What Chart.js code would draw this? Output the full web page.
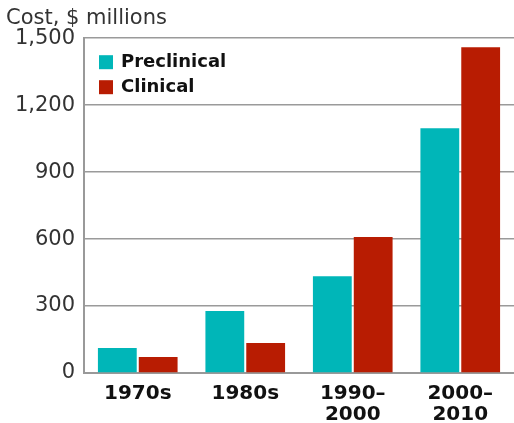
<!DOCTYPE html>
<html>
<head>
<meta charset="utf-8">
<script src="https://cdn.jsdelivr.net/npm/chart.js@4"></script>
<style>
  html, body { margin: 0; padding: 0; background: #fff; }
  #wrap { width: 514px; height: 423px; }
</style>
</head>
<body>
<div id="wrap"><canvas id="chart"></canvas></div>
<script>
const decades = [["1970s"], ["1980s"], ["1990–", "2000"], ["2000–", "2010"]];
const preclinical = [112, 278, 434, 1097];
const clinical = [72, 134, 609, 1460];
const yTicks = [0, 300, 600, 900, 1200, 1500];

const FONT = "'DejaVu Sans', sans-serif";

// legend drawn inside the plot, top left
const insideLegend = {
  id: 'insideLegend',
  afterDraw(chart) {
    const ctx = chart.ctx;
    const left = chart.chartArea.left + 15;
    let y = chart.chartArea.top + 24;
    ctx.save();
    ctx.font = "bold 18px " + FONT;
    ctx.textBaseline = 'middle';
    chart.data.datasets.forEach(ds => {
      ctx.fillStyle = ds.backgroundColor;
      ctx.fillRect(left, y - 7, 14, 14);
      ctx.fillStyle = '#111';
      ctx.fillText(ds.label, left + 22, y);
      y += 25;
    });
    ctx.restore();
  }
};

new Chart(document.getElementById('chart'), {
  type: 'bar',
  data: {
    labels: decades,
    datasets: [
      { label: 'Preclinical', data: preclinical, backgroundColor: '#00b6b8' },
      { label: 'Clinical', data: clinical, backgroundColor: '#b81c02' }
    ]
  },
  options: {
    responsive: true,
    maintainAspectRatio: false,
    animation: false,
    layout: { padding: { left: 6, right: -2, top: 0, bottom: 0 } },
    categoryPercentage: 0.76,
    barPercentage: 0.95,
    scales: {
      x: {
        afterFit(axis) { axis.height = 50; },
        grid: { display: false, drawTicks: false },
        border: { color: '#999', width: 2 },
        ticks: {
          color: '#111',
          font: { family: FONT, size: 20, weight: 'bold', lineHeight: 1.05 },
          padding: 10
        }
      },
      y: {
        min: 0,
        max: 1500,
        afterBuildTicks(axis) { axis.ticks = yTicks.map(v => ({ value: v })); },
        afterFit(axis) { axis.width = 78; },
        grid: { color: '#9a9a9a', lineWidth: 1.5, drawTicks: false },
        border: { color: '#999', width: 2 },
        ticks: {
          color: '#333',
          font: { family: FONT, size: 21 },
          padding: 9,
          callback: v => v.toLocaleString('en-US')
        }
      }
    },
    plugins: {
      legend: { display: false },
      tooltip: { enabled: false },
      title: {
        display: true,
        text: 'Cost, $ millions',
        align: 'start',
        color: '#333',
        font: { family: FONT, size: 21, weight: 'normal' },
        padding: { top: 6, bottom: 7 }
      }
    }
  },
  plugins: [insideLegend]
});
</script>
</body>
</html>
